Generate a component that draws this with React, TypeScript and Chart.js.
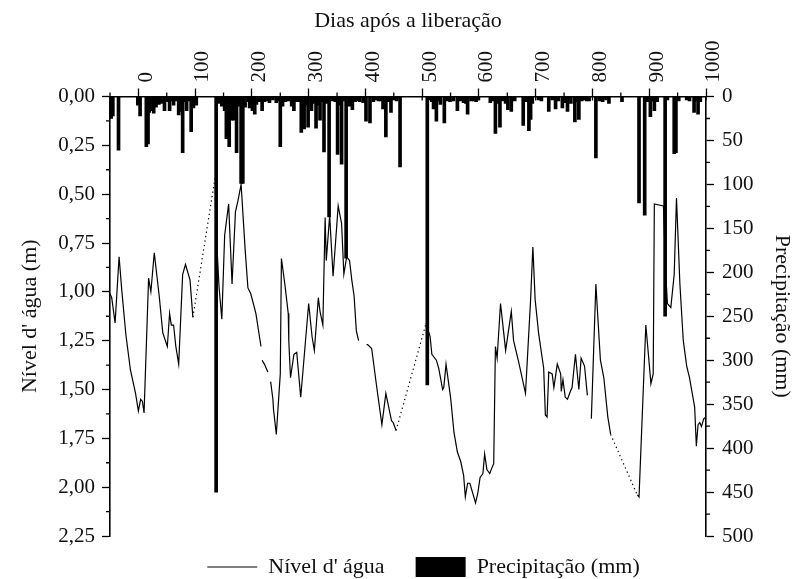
import React, { useEffect, useRef } from 'react';
import { Chart, registerables } from 'chart.js';

Chart.register(...registerables);

const FONT = "'Liberation Serif', 'Times New Roman', serif";

// Eixo superior (dias após a liberação)
const dayTicks = [0, 100, 200, 300, 400, 500, 600, 700, 800, 900, 1000];
const dayMinorTicks = [-50, 50, 150, 250, 350, 450, 550, 650, 750, 850, 950];
// Eixo esquerdo (nível d'água, m)
const levelTicks = [0, 0.25, 0.5, 0.75, 1, 1.25, 1.5, 1.75, 2, 2.25];
const levelMinorTicks = [0.125, 0.375, 0.625, 0.875, 1.125, 1.375, 1.625, 1.875, 2.125];
// Eixo direito (precipitação, mm)
const rainTicks = [0, 50, 100, 150, 200, 250, 300, 350, 400, 450, 500];
const rainMinorTicks = [25, 75, 125, 175, 225, 275, 325, 375, 425, 475];

// Nível d'água (null = interrupção da série)
const levelDays = [
  -50, -47, -41, -34, -29, -22, -14, -5, 0, 4, 7, 10, 18, 22, 28, 37, 43, 51, 55, 58, 62, 66, 71, 78, 83, 91, 96,
  136, 139, 142, 147, 152, 159, 165, 171, 175, 181, 188, 193, 198, 207, 216,
  217,
  218, 222, 228,
  230,
  233, 237, 238, 243, 250, 252, 258, 264, 265, 268, 274, 279, 286, 293, 300, 306, 310, 315, 317, 320, 325, 329,
  331, 337, 343, 352, 358, 362, 367, 372, 376, 380, 384, 388,
  395,
  402, 404, 411, 420, 429, 436, 446, 449, 454,
  507, 514, 517, 525, 529, 536, 538, 542, 550, 556, 562, 568, 573, 576, 580, 584, 594, 598, 602, 607, 610, 614,
  619, 623, 626, 629, 632, 638, 647, 657, 661, 670, 682, 691, 695, 699, 705, 714, 717, 720, 723, 729, 732, 738,
  744, 745, 748, 752, 756, 761, 764, 770, 776, 780, 786, 791,
  795,
  798, 806, 809, 814, 820, 827, 832,
  879, 882, 894, 903, 907, 909, 925, 929, 932, 938, 944, 948, 954, 960, 966, 971, 980, 983, 986, 989, 992, 996, 1000,
];
const levelValues = [
  1.01, 1.03, 1.16, 0.82, 1.0, 1.22, 1.4, 1.52, 1.61, 1.55, 1.56, 1.62, 0.93, 1.0, 0.8, 1.03, 1.21, 1.28, 1.11, 1.17, 1.17, 1.28, 1.37, 0.91, 0.86, 0.94, 1.13,
  0.4, 0.8, 0.97, 1.14, 0.71, 0.55, 0.96, 0.59, 0.54, 0.45, 0.78, 0.98, 1.01, 1.11, 1.28,
  null,
  1.35, 1.37, 1.41,
  null,
  1.46, 1.55, 1.6, 1.73, 1.42, 0.83, 0.96, 1.11, 1.25, 1.44, 1.32, 1.31, 1.54, 1.3, 1.06, 1.23, 1.3, 1.11, 1.03, 1.1, 1.17, 0.62,
  0.84, 0.61, 0.92, 0.56, 0.65, 0.91, 0.82, 0.84, 0.94, 1.02, 1.2, 1.25,
  null,
  1.27, 1.27, 1.29, 1.49, 1.68, 1.52, 1.66, 1.67, 1.71,
  1.16, 1.23, 1.32, 1.35, 1.39, 1.5, 1.49, 1.37, 1.54, 1.72, 1.82, 1.87, 1.94, 2.05, 1.98, 1.98, 2.08, 2.03, 1.95, 1.93, 1.83, 1.91,
  1.93, 1.9, 1.88, 1.28, 1.34, 1.06, 1.3, 1.1, 1.25, 1.36, 1.52, 1.04, 0.77, 1.04, 1.21, 1.39, 1.63, 1.64, 1.41, 1.42, 1.49, 1.37,
  1.42, 1.51, 1.45, 1.54, 1.55, 1.51, 1.49, 1.32, 1.5, 1.34, 1.38, 1.53,
  null,
  1.65, 0.96, 1.11, 1.35, 1.44, 1.64, 1.73,
  2.04, 2.05, 1.17, 1.47, 1.42, 0.55, 0.56, 0.9, 1.06, 1.08, 0.91, 0.52, 0.96, 1.25, 1.38, 1.44, 1.59, 1.79, 1.68, 1.67, 1.69, 1.65, 1.64,
];

// Precipitação diária (mm)
const rainDays = [
  -48, -45, -35, -1, 3, 14, 17, 19, 22, 27, 31, 36, 40, 46, 50, 55, 58, 62, 67, 71, 75, 78, 82, 85, 89, 93, 97, 99, 102,
  137, 140, 143, 147, 152, 155, 160, 164, 168, 173, 177, 181, 184, 188, 192, 196, 201, 205, 208, 213, 218, 222, 226,
  231, 237, 243, 247, 250, 254, 259, 264, 270, 274, 279, 284, 287, 292, 295, 299, 305, 309, 313, 317, 320, 324, 327,
  331, 336, 342, 347, 351, 355, 358, 362, 366, 372, 377, 382, 386, 390, 396, 401, 408, 414, 418, 423, 427, 431, 436,
  440, 445, 450, 455, 461,
  509, 513, 517, 520, 525, 528, 532, 539, 544, 549, 555, 562, 567, 573, 577, 580, 586, 591, 595, 599, 620, 625, 629,
  633, 637, 642, 647, 651, 657, 663, 678, 683, 688, 691, 694, 705, 710, 723, 729, 735, 740, 747, 751, 756, 762, 769,
  773, 776, 781, 785, 790, 794, 806, 812, 818, 824, 829, 852, 882, 892, 897, 902, 906, 909, 914, 928, 932, 944, 947,
  952, 966, 971, 979, 983, 986, 990,
];
const rainValues = [
  25, 22, 61, 10, 22, 57, 54, 18, 16, 19, 12, 9, 8, 16, 6, 16, 5, 10, 5, 21, 17, 64, 6, 16, 5, 40, 13, 6, 10,
  450, 5, 8, 11, 16, 48, 57, 27, 27, 64, 11, 99, 99, 12, 6, 13, 16, 20, 9, 6, 16, 6, 5,
  7, 4, 7, 5, 57, 11, 6, 5, 11, 16, 6, 6, 41, 37, 10, 35, 16, 8, 36, 10, 27, 6, 63,
  8, 137, 5, 6, 66, 10, 77, 5, 184, 11, 15, 6, 5, 6, 7, 28, 30, 6, 4, 5, 5, 14, 46,
  6, 18, 4, 5, 80,
  328, 4, 6, 14, 28, 5, 9, 30, 5, 6, 5, 16, 5, 7, 8, 20, 5, 5, 6, 4, 7, 5, 42,
  8, 35, 5, 8, 15, 17, 5, 33, 6, 39, 26, 8, 4, 5, 17, 4, 14, 5, 13, 7, 17, 8, 29,
  6, 26, 5, 4, 5, 5, 70, 5, 6, 4, 8, 6, 121, 135, 6, 23, 5, 16, 6, 250, 4, 65, 64,
  5, 4, 5, 18, 5, 20, 6,
];

const fmtLevel = (v: number) => v.toFixed(2).replace('.', ',');

const extraTicksPlugin = {
  id: 'extraTicks',
  afterDraw(chart: any) {
    const { ctx, chartArea } = chart;
    const { x, y, y1 } = chart.scales;
    ctx.save();
    ctx.strokeStyle = '#000';
    ctx.lineWidth = 1.3;
    ctx.beginPath();
    const top = chartArea.top;
    dayMinorTicks.forEach((v) => {
      const px = x.getPixelForValue(v);
      ctx.moveTo(px, top);
      ctx.lineTo(px, top - 4);
    });
    dayTicks.forEach((v) => {
      const px = x.getPixelForValue(v);
      ctx.moveTo(px, top);
      ctx.lineTo(px, top + 4);
    });
    levelMinorTicks.forEach((v) => {
      const py = y.getPixelForValue(v);
      ctx.moveTo(chartArea.left, py);
      ctx.lineTo(chartArea.left - 4, py);
    });
    rainMinorTicks.forEach((v) => {
      const py = y1.getPixelForValue(v);
      ctx.moveTo(chartArea.right, py);
      ctx.lineTo(chartArea.right + 4, py);
    });
    ctx.stroke();
    ctx.restore();
  },
};

// desloca a legenda (centrada sob a figura original)
const legendShiftPlugin = {
  id: 'legendShift',
  afterLayout(chart: any) {
    const l = chart.legend;
    if (l) {
      l.left += 25;
      l.right += 25;
      l.top -= 11;
      l.bottom -= 11;
    }
  },
};

const CANVAS_H = 599;

export default function App() {
  const ref = useRef<HTMLCanvasElement>(null);

  useEffect(() => {
    if (!ref.current) return;
    Chart.defaults.font.family = FONT;
    const lineData = levelDays.map((d, i) => ({ x: d, y: levelValues[i] }));
    const barData = rainDays.map((d, i) => ({ x: d, y: rainValues[i] }));

    const chart = new Chart(ref.current, {
      type: 'bar',
      data: {
        datasets: [
          {
            type: 'line',
            label: "Nível d' água",
            data: lineData as any,
            xAxisID: 'x',
            yAxisID: 'y',
            borderColor: '#000',
            backgroundColor: '#000',
            borderWidth: 1.2,
            pointRadius: 0,
            pointHoverRadius: 0,
            pointStyle: 'line',
            pointBorderColor: '#000',
            pointBackgroundColor: '#000',
            pointBorderWidth: 1.2,
            spanGaps: false,
            tension: 0,
            order: 1,
            segment: {
              borderDash: (c: any) => (c.p1.parsed.x - c.p0.parsed.x > 30 ? [1.3, 3.2] : undefined),
            },
          } as any,
          {
            type: 'bar',
            label: 'Precipitação (mm)',
            data: barData as any,
            xAxisID: 'x',
            yAxisID: 'y1',
            backgroundColor: '#000',
            borderWidth: 0,
            barThickness: 3,
            pointStyle: 'rect',
            order: 2,
          } as any,
        ],
      },
      options: {
        responsive: false,
        animation: false,
        events: [],
        layout: { padding: 0 },
        plugins: {
          legend: {
            position: 'bottom',
            labels: {
              usePointStyle: true,
              pointStyleWidth: 50,
              boxHeight: 20,
              padding: 31,
              color: '#111',
              font: { size: 22, family: FONT },
            },
          },
          tooltip: { enabled: false },
          title: { display: false },
        },
        scales: {
          x: {
            type: 'linear',
            position: 'top',
            min: -50,
            max: 1000,
            offset: false,
            afterBuildTicks: (s: any) => {
              s.ticks = dayTicks.map((v) => ({ value: v }));
            },
            afterFit: (s: any) => {
              s.height = 96.5;
            },
            ticks: {
              autoSkip: false,
              minRotation: 90,
              maxRotation: 90,
              padding: 6,
              labelOffset: 33,
              color: '#111',
              font: { size: 21, family: FONT },
              callback: (v: any) => String(v),
            },
            grid: { offset: false, drawOnChartArea: false, tickLength: 8, tickWidth: 1.3, tickColor: '#000' },
            border: { display: true, color: '#000', width: 1.6 },
            title: {
              display: true,
              text: 'Dias após a liberação',
              color: '#111',
              font: { size: 22, family: FONT },
              padding: { top: 8, bottom: 0 },
            },
          },
          y: {
            type: 'linear',
            position: 'left',
            reverse: true,
            min: 0,
            max: 2.25,
            afterBuildTicks: (s: any) => {
              s.ticks = levelTicks.map((v) => ({ value: v }));
            },
            afterFit: (s: any) => {
              s.width = 110;
            },
            ticks: {
              autoSkip: false,
              padding: 7,
              color: '#111',
              font: { size: 21, family: FONT },
              callback: (v: any) => fmtLevel(Number(v)),
            },
            grid: { drawOnChartArea: false, tickLength: 8, tickWidth: 1.3, tickColor: '#000' },
            border: { display: true, color: '#000', width: 1.6 },
            title: {
              display: true,
              text: "Nível d' água (m)",
              color: '#111',
              font: { size: 22, family: FONT },
              padding: { top: 17, bottom: 0 },
            },
          },
          y1: {
            type: 'linear',
            position: 'right',
            reverse: true,
            min: 0,
            max: 500,
            afterBuildTicks: (s: any) => {
              s.ticks = rainTicks.map((v) => ({ value: v }));
            },
            afterFit: (s: any) => {
              s.width = 91;
            },
            ticks: {
              autoSkip: false,
              padding: 8,
              color: '#111',
              font: { size: 21, family: FONT },
              callback: (v: any) => String(v),
            },
            grid: { drawOnChartArea: false, tickLength: 8, tickWidth: 1.3, tickColor: '#000' },
            border: { display: true, color: '#000', width: 1.6 },
            title: {
              display: true,
              text: 'Precipitação (mm)',
              color: '#111',
              font: { size: 22, family: FONT },
              padding: { top: 2, bottom: 0 },
            },
          },
        },
      } as any,
      plugins: [extraTicksPlugin, legendShiftPlugin],
    });
    return () => chart.destroy();
  }, []);

  return (
    <div
      style={{
        position: 'fixed',
        left: 0,
        top: 0,
        width: 797,
        height: 579,
        overflow: 'hidden',
        background: '#fff',
      }}
    >
      <canvas ref={ref} width={797} height={CANVAS_H} style={{ display: 'block', width: 797, height: CANVAS_H }} />
    </div>
  );
}
